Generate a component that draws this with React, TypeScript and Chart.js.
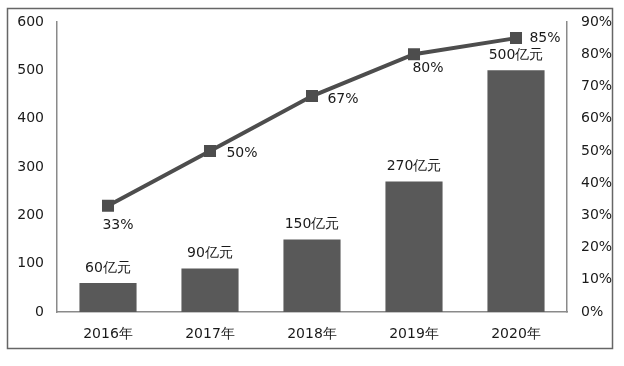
import React, { useEffect, useRef } from "react";
import { Chart, registerables } from "chart.js";

Chart.register(...registerables);

const categories = ["2016年", "2017年", "2018年", "2019年", "2020年"];
const revenue = [60, 90, 150, 270, 500];
const revenueLabels = ["60亿元", "90亿元", "150亿元", "270亿元", "500亿元"];
const penetration = [33, 50, 67, 80, 85];
const penetrationLabels = ["33%", "50%", "67%", "80%", "85%"];
const lineLabelOffsets = [
  [10, 20],
  [32, 2],
  [31, 3],
  [14, 14],
  [29, 0],
];

const FONT = "'DejaVu Sans', Verdana, sans-serif";

const framePlugin = {
  id: "frame",
  beforeDraw(chart: any) {
    const ctx = chart.ctx;
    ctx.save();
    ctx.fillStyle = "#ffffff";
    ctx.fillRect(0, 0, chart.width, chart.height);
    ctx.strokeStyle = "#666666";
    ctx.lineWidth = 1.5;
    ctx.strokeRect(7.5, 8.5, 605, 340);
    ctx.restore();
  },
};

const labelPlugin = {
  id: "valueLabels",
  afterDatasetsDraw(chart: any) {
    const ctx = chart.ctx;
    ctx.save();
    ctx.font = `14px ${FONT}`;
    ctx.fillStyle = "#1a1a1a";
    ctx.textAlign = "center";
    ctx.textBaseline = "middle";
    const barMeta = chart.getDatasetMeta(0);
    barMeta.data.forEach((el: any, i: number) => {
      ctx.fillText(revenueLabels[i], el.x, el.y - 15);
    });
    const lineMeta = chart.getDatasetMeta(1);
    lineMeta.data.forEach((el: any, i: number) => {
      const [dx, dy] = lineLabelOffsets[i];
      ctx.fillText(penetrationLabels[i], el.x + dx, el.y + dy);
    });
    ctx.restore();
  },
};

export default function App() {
  const ref = useRef<HTMLCanvasElement>(null);
  useEffect(() => {
    document.body.style.margin = "0";
    const chart = new Chart(ref.current!, {
      type: "bar",
      data: {
        labels: categories,
        datasets: [
          {
            type: "bar",
            data: revenue,
            backgroundColor: "#595959",
            yAxisID: "y",
            barPercentage: 0.56,
            categoryPercentage: 1,
            order: 2,
          },
          {
            type: "line",
            data: penetration,
            borderColor: "#4d4d4d",
            borderWidth: 4,
            pointStyle: "rect",
            pointRadius: 8.5,
            pointBackgroundColor: "#4d4d4d",
            pointBorderColor: "#4d4d4d",
            pointBorderWidth: 0,
            yAxisID: "y1",
            order: 1,
          } as any,
        ],
      },
      options: {
        animation: false,
        responsive: false,
        events: [],
        layout: { padding: { top: 22, left: 0, right: 0, bottom: 0 } },
        plugins: { legend: { display: false }, tooltip: { enabled: false } },
        scales: {
          x: {
            grid: { display: false, drawTicks: false },
            border: { display: true, color: "#8a8a8a", width: 1.5 },
            ticks: { font: { family: FONT, size: 14 }, color: "#1a1a1a", padding: 14 },
            afterFit(s: any) {
              s.height = 54;
            },
          },
          y: {
            position: "left",
            min: 0,
            max: 600,
            grid: { display: false, drawTicks: false },
            border: { display: true, color: "#8a8a8a", width: 1.5 },
            ticks: { stepSize: 100, font: { family: FONT, size: 14 }, color: "#1a1a1a", padding: 13 },
            afterFit(s: any) {
              s.width = 57;
            },
          },
          y1: {
            position: "right",
            min: 0,
            max: 90,
            grid: { display: false, drawOnChartArea: false, drawTicks: true, tickLength: 5, color: "#8a8a8a", lineWidth: 1.5 },
            border: { display: true, color: "#8a8a8a", width: 1.5 },
            ticks: {
              stepSize: 10,
              font: { family: FONT, size: 14 },
              color: "#1a1a1a",
              padding: 9,
              callback: (v: any) => `${v}%`,
            },
            afterFit(s: any) {
              s.width = 57;
            },
          },
        },
      },
      plugins: [framePlugin, labelPlugin],
    });
    return () => chart.destroy();
  }, []);
  return (
    <div style={{ width: 624, height: 366 }}>
      <canvas ref={ref} width={624} height={366} />
    </div>
  );
}
